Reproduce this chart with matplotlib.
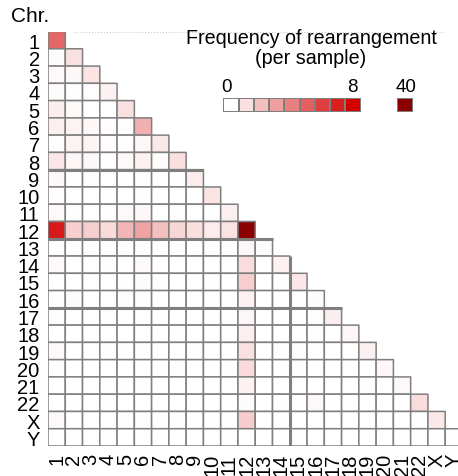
import numpy as np
import matplotlib
matplotlib.use("Agg")
import matplotlib.pyplot as plt
from matplotlib.colors import LinearSegmentedColormap

plt.rcParams["font.family"] = ["Liberation Sans", "DejaVu Sans"]

# Chromosome labels (rows and columns)
chroms = [str(i) for i in range(1, 23)] + ["X", "Y"]

# Lower-triangle frequency of rearrangement (per sample), row by row
freq_rows = [
    [4.8],
    [0.15, 0.95],
    [0.2, 0.25, 0.85],
    [0.15, 0.05, 0.1, 0.45],
    [0.55, 0.2, 0.02, 0.03, 0.95],
    [0.5, 0.4, 0.25, 0.12, 0.1, 2.5],
    [0.1, 0.4, 0.35, 0.12, 0.08, 0.3, 0.7],
    [0.75, 0.3, 0.25, 0.03, 0.2, 0.45, 0.15, 1.0],
    [0.25, 0.02, 0.1, 0.02, 0.08, 0.1, 0.02, 0.02, 0.6],
    [0.08, 0.02, 0.03, 0.02, 0.03, 0.05, 0.02, 0.02, 0.03, 0.85],
    [0.2, 0.05, 0.02, 0.08, 0.2, 0.25, 0.03, 0.1, 0.02, 0.02, 0.5],
    [7.2, 1.5, 1.55, 1.15, 2.3, 2.9, 2.0, 1.3, 1.0, 0.6, 0.9, 40],
    [0.02, 0.03, 0.02, 0.02, 0.02, 0.03, 0.02, 0.05, 0.02, 0.02, 0.02, 0.3, 0.1],
    [0.2, 0.02, 0.02, 0.05, 0.02, 0.2, 0.02, 0.02, 0.02, 0.02, 0.02, 1.1, 0.02, 0.45],
    [0.03, 0.02, 0.02, 0.02, 0.05, 0.15, 0.05, 0.02, 0.02, 0.02, 0.02, 1.5, 0.02, 0.05, 0.75],
    [0.08, 0.15, 0.02, 0.02, 0.1, 0.05, 0.02, 0.02, 0.02, 0.02, 0.02, 0.45, 0.02, 0.02, 0.02, 0.15],
    [0.1, 0.02, 0.02, 0.05, 0.02, 0.02, 0.02, 0.02, 0.02, 0.02, 0.02, 0.3, 0.02, 0.02, 0.03, 0.05, 0.55],
    [0.02, 0.02, 0.02, 0.02, 0.02, 0.02, 0.02, 0.05, 0.02, 0.02, 0.02, 0.5, 0.02, 0.02, 0.02, 0.05, 0.02, 0.3],
    [0.2, 0.02, 0.02, 0.08, 0.05, 0.05, 0.02, 0.02, 0.05, 0.02, 0.02, 0.95, 0.02, 0.1, 0.05, 0.02, 0.02, 0.02, 0.5],
    [0.05, 0.02, 0.02, 0.03, 0.02, 0.02, 0.02, 0.1, 0.02, 0.02, 0.05, 1.2, 0.02, 0.02, 0.05, 0.02, 0.02, 0.02, 0.02, 0.25],
    [0.02, 0.02, 0.02, 0.02, 0.05, 0.05, 0.02, 0.02, 0.02, 0.02, 0.02, 0.45, 0.02, 0.02, 0.02, 0.02, 0.02, 0.02, 0.05, 0.02, 0.2],
    [0.02, 0.02, 0.02, 0.02, 0.02, 0.02, 0.02, 0.02, 0.02, 0.02, 0.02, 0.15, 0.02, 0.05, 0.02, 0.2, 0.02, 0.02, 0.02, 0.02, 0.02, 1.1],
    [0.2, 0.02, 0.02, 0.02, 0.1, 0.1, 0.08, 0.05, 0.02, 0.02, 0.02, 1.6, 0.02, 0.02, 0.02, 0.02, 0.02, 0.02, 0.02, 0.02, 0.02, 0.02, 0.7],
    [0, 0, 0, 0, 0, 0, 0, 0, 0, 0, 0, 0, 0, 0, 0, 0, 0, 0, 0, 0, 0, 0, 0, 0],
]

# Legend scale
legend_vals = [0, 1, 2, 3, 4, 5, 6, 7, 8]
legend_max = 40

# Block separators drawn with a heavier line
h_breaks = [8, 12, 16]
v_breaks = [14]

n = len(chroms)
mat = np.full((n, n), np.nan)
for i, row in enumerate(freq_rows):
    mat[i, :len(row)] = row
mat = np.ma.masked_invalid(mat)

cmap = LinearSegmentedColormap.from_list("wr", ["#ffffff", "#d40000"])
cmap.set_over("#8b0000")
grid_col = "#7f7f7f"

W, H = 458, 477
fig = plt.figure(figsize=(W / 100, H / 100), dpi=100)
cell = 17.27
ax = fig.add_axes([48 / W, 30 / H, n * cell / W, n * cell / H])
# faint dotted top border (behind the cells)
ax.plot([1.5, 23], [0, 0], color="#cccccc", lw=0.8, ls=":", clip_on=False, zorder=0)
# pcolor skips masked cells, so the upper triangle stays empty
ax.pcolor(np.arange(n + 1), np.arange(n + 1), mat, cmap=cmap, vmin=0, vmax=8,
          edgecolors=grid_col, linewidth=1.1)
ax.set_xlim(0, n)
ax.set_ylim(n, 0)
for s in ax.spines.values():
    s.set_visible(False)

# heavier separator lines
for b in h_breaks:
    ax.plot([0, b + 1], [b, b], color=grid_col, lw=2.2, solid_capstyle="butt")
for b in v_breaks:
    ax.plot([b, b], [b - 1, n], color=grid_col, lw=2.2, solid_capstyle="butt")

ax.set_xticks(np.arange(n) + 0.5)
ax.set_xticklabels(chroms, rotation=90, fontsize=14.5)
ax.set_yticks(np.arange(n) + 0.5)
ax.set_yticklabels(chroms, fontsize=14.5)
ax.tick_params(length=0, pad=5)
ax.tick_params(axis="y", pad=6)

fig.text(11 / W, 1 - 17 / H, "Chr.", fontsize=15, ha="left", va="center")

# legend
fig.text(311 / W, 1 - 38 / H, "Frequency of rearrangement", fontsize=14.2,
         ha="center", va="center")
fig.text(311 / W, 1 - 58 / H, "(per sample)", fontsize=14.2, ha="center", va="center")

lx0, lx1 = 223.3, 360.7
ly0, ly1 = 99, 113.3
lax = fig.add_axes([lx0 / W, 1 - ly1 / H, (lx1 - lx0) / W, (ly1 - ly0) / H])
lax.pcolormesh(np.arange(len(legend_vals) + 1), [0, 1], np.array([legend_vals]),
               cmap=cmap, vmin=0, vmax=8, edgecolors=grid_col, linewidth=1.1)
lax.set_axis_off()

mx0, mx1 = 397.3, 413.3
max_ax = fig.add_axes([mx0 / W, 1 - ly1 / H, (mx1 - mx0) / W, (ly1 - ly0) / H])
max_ax.pcolormesh([0, 1], [0, 1], np.array([[legend_max]]), cmap=cmap, vmin=0, vmax=8,
                  edgecolors=grid_col, linewidth=1.1)
max_ax.set_axis_off()

fig.text(227 / W, 1 - 88 / H, str(legend_vals[0]), fontsize=13.5,
         ha="center", va="center")
fig.text(352 / W, 1 - 88 / H, str(legend_vals[-1]), fontsize=13.5,
         ha="center", va="center")
fig.text(406 / W, 1 - 88 / H, str(legend_max), fontsize=13.5,
         ha="center", va="center")

fig.savefig("out.png", dpi=100)
